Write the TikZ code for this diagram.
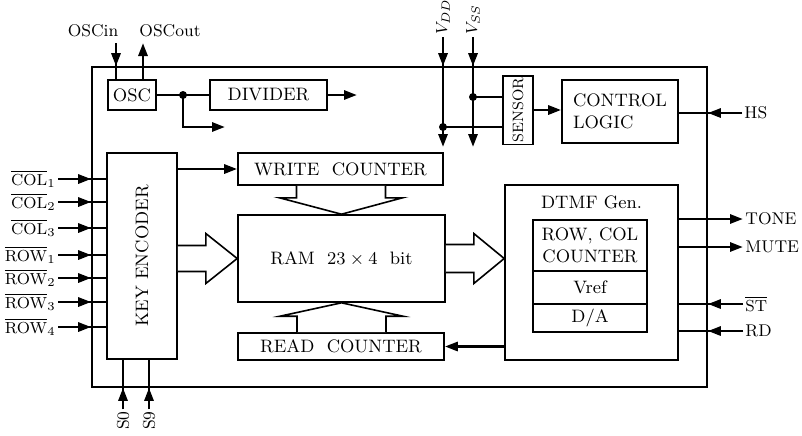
\documentclass[tikz,border=0pt]{standalone}
\usetikzlibrary{arrows.meta,calc}
\begin{document}
\begin{tikzpicture}[x=0.5pt,y=-0.5pt]
\tikzstyle{bloc} = [draw,line width=0.8pt,inner sep=1pt,font=\fontsize{9}{11}\selectfont] %blocs
\tikzstyle{fil} = [line width=1.4pt]
\tikzstyle{fleche} = [line width=1.4pt,-{Triangle[length=6.5pt,width=4.5pt]}]
\tikzstyle{creuse} = [draw,line width=0.8pt,fill=white,line join=miter]
\tikzstyle{broche} = [inner sep=1pt,font=\fontsize{8.5}{10}\selectfont]
\tikzstyle{point} = [circle,fill,inner sep=0pt,minimum size=4pt]

\useasboundingbox (0,0) rectangle (802,435);

%boitier
\node[draw,line width=0.8pt,minimum width=307.5pt,minimum height=160pt] (boitier) at (399.5,227) {};

%blocs
\node[bloc,minimum width=24pt,minimum height=15pt] (OSC) at (132,95) {OSC};
\node[bloc,minimum width=58.5pt,minimum height=15pt] (DIV) at (268.5,95) {DIVIDER};
\node[bloc,rotate=90,minimum width=33pt,minimum height=15pt,font=\fontsize{7.5}{9}\selectfont] (SEN) at (518,110) {SENSOR};
\node[bloc,minimum width=58pt,minimum height=31.5pt,align=left] (CTRL) at (620,111.5) {CONTROL\\LOGIC};
\node[bloc,rotate=90,minimum width=103pt,minimum height=35pt] (KEY) at (142,256) {KEY ENCODER};
\node[bloc,minimum width=102.5pt,minimum height=16pt] (WCNT) at (340.5,169) {WRITE\ \ COUNTER};
\node[bloc,minimum width=103.5pt,minimum height=43.5pt] (RAM) at (341.5,258.5) {RAM\ \ $23\times4$\ \ bit};
\node[bloc,minimum width=103pt,minimum height=13.5pt] (RCNT) at (341,346.5) {READ\ \ COUNTER};
\node[bloc,minimum width=86.5pt,minimum height=87.5pt] (DTMF) at (591.5,272.5) {};
\node[bloc,draw=none] (titre) at (591.5,202) {DTMF\ Gen.};
\node[bloc,minimum width=57pt,minimum height=25.5pt,align=center] (RCOL) at (590,245.5) {ROW, COL\\COUNTER};
\node[bloc,minimum width=57pt,minimum height=16.5pt] (VREF) at (590,287.5) {Vref};
\node[bloc,minimum width=57pt,minimum height=14pt] (DA) at (590,318) {D/A};

%horloge
\node[point] (n1) at (183,95) {};
\coordinate (divout) at (357,95);
\coordinate (clk) at (225,127);
\draw[fil] (OSC.east) -- (DIV.west);
\draw[fleche] (DIV.east) -- (divout);
\draw[fleche] (n1.center) |- (clk);

%OSCin, OSCout
\node[broche] (oscin) at (93,31) {OSCin};
\node[broche] (oscout) at (170,31) {OSCout};
\coordinate (pin) at (116,43);
\coordinate (pout) at (143,43);
\draw[fil] (pin) -- (pin |- OSC.north);
\draw[fleche] (pin) -- (pin |- boitier.north);
\draw[fleche] (pout |- OSC.north) -- (pout);

%alimentation
\node[broche,rotate=90,anchor=west] (vdd) at (443,37) {$V_{DD}$};
\node[broche,rotate=90,anchor=west] (vss) at (473,37) {$V_{SS}$};
\coordinate (dd) at (443,147);
\coordinate (ss) at (473,147);
\draw[fleche] (vdd.west) -- (vdd.west |- boitier.north);
\draw[fleche] (vdd.west) -- (dd);
\draw[fleche] (vss.west) -- (vss.west |- boitier.north);
\draw[fleche] (vss.west) -- (ss);
\node[point] (pss) at (473,97) {};
\node[point] (pdd) at (443,127) {};
\draw[fil] (pss.center) -- (pss.center -| SEN.north);
\draw[fil] (pdd.center) -- (pdd.center -| SEN.north);
\draw[fleche] (SEN.south) -- (SEN.south -| CTRL.west);

%HS
\node[broche,anchor=west] (hs) at (742,113) {HS};
\draw[fil] (hs.west) -- (hs.west -| CTRL.east);
\draw[fleche] (hs.west) -- (hs.west -| boitier.east);

%entrees clavier
\foreach \i/\y/\nom/\k in {1/179/COL/1,2/202/COL/2,3/228/COL/3,4/255/ROW/1,5/278/ROW/2,6/302/ROW/3,7/327/ROW/4}{
  \node[broche,anchor=east] (e\i) at (58,\y) {$\overline{\mathrm{\nom}}_{\k}$};
  \draw[fil] (e\i.east) -- (e\i.east -| KEY.north);
  \draw[fleche] (e\i.east) -- (e\i.east -| boitier.west);
}

%S0 S9
\foreach \i/\x/\t in {1/123/S0,2/149/S9}{
  \node[broche,rotate=90,anchor=east] (s\i) at (\x,409) {\t};
  \draw[fil] (s\i.east) -- (s\i.east |- KEY.west);
  \draw[fleche] (s\i.east) -- (s\i.east |- boitier.south);
}

%sorties DTMF
\foreach \n/\y/\t in {tone/219/TONE,mute/247/MUTE}{
  \node[broche,anchor=west] (\n) at (743,\y) {\t};
  \draw[fleche] (\n.west -| DTMF.east) -- (\n.west);
}
\foreach \n/\y/\t in {st/304/$\overline{\mathrm{ST}}$,rd/331/RD}{
  \node[broche,anchor=west] (\n) at (743,\y) {\t};
  \draw[fil] (\n.west) -- (\n.west -| DTMF.east);
  \draw[fleche] (\n.west) -- (\n.west -| boitier.east);
}

%compteurs
\draw[fleche] (KEY.south |- WCNT.west) -- (WCNT.west);
\draw[fleche] (DTMF.west |- RCNT.east) -- (RCNT.east);

%fleches creuses
\draw[creuse] ($(WCNT.south)+(-44,0)$) -- ++(0,12) -- ++(-17,0) -- (RAM.north)
  -- ($(WCNT.south)+(62,12)$) -- ++(-17,0) -- ++(0,-12);
\draw[creuse] ($(RCNT.north)+(-44,0)$) -- ++(0,-16) -- ++(-17,0) -- (RAM.south)
  -- ($(RCNT.north)+(62,-16)$) -- ++(-17,0) -- ++(0,16);
\draw[creuse] ($(KEY.south |- RAM.west)+(0,-13)$) -- ++(28,0) -- ++(0,-12) -- (RAM.west)
  -- ($(KEY.south |- RAM.west)+(28,25)$) -- ++(0,-12) -- ++(-28,0);
\draw[creuse] ($(RAM.east)+(0,-14)$) -- ++(28,0) -- ++(0,-11) -- (RAM.east -| DTMF.west)
  -- ($(RAM.east)+(28,25)$) -- ++(0,-11) -- ++(-28,0);
\end{tikzpicture}
\end{document}
